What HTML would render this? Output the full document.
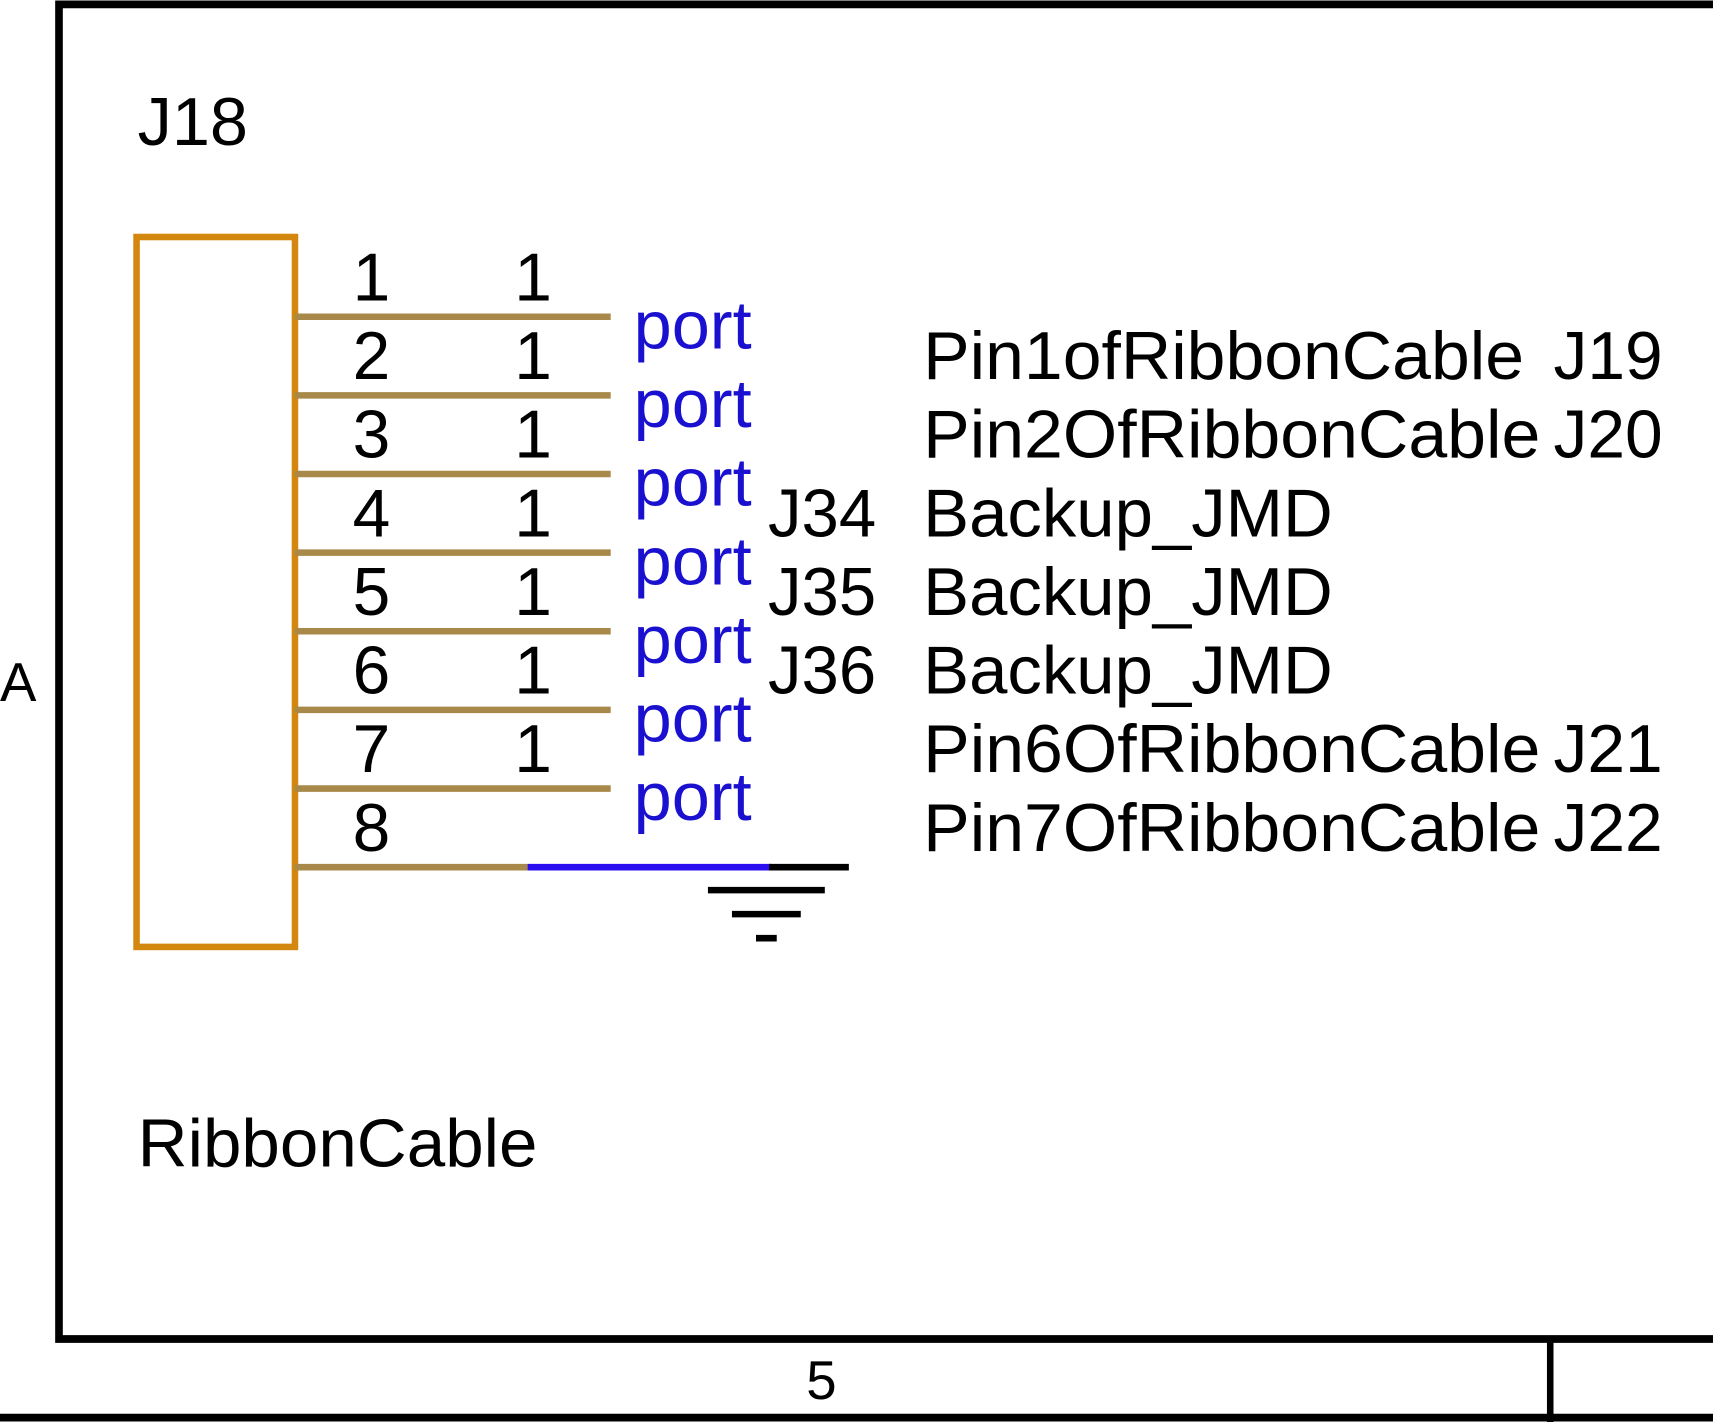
<!DOCTYPE html>
<html><head><meta charset="utf-8"><style>
html,body{margin:0;padding:0;background:#fff;}
svg{display:block;}
text{font-family:"Liberation Sans",Arial,sans-serif;}
</style></head><body>
<svg width="1713" height="1422" viewBox="0 0 1568 1302" preserveAspectRatio="none" xmlns="http://www.w3.org/2000/svg">
<rect x="0" y="0" width="1568" height="1302" fill="#fff"/>
<polyline points="1572,4 54,4 54,1226 1572,1226" fill="none" stroke="#000" stroke-width="7"/>
<line x1="0" y1="1298" x2="1572" y2="1298" stroke="#000" stroke-width="7"/>
<line x1="1419" y1="1226" x2="1419" y2="1302" stroke="#000" stroke-width="6"/>
<text x="738" y="1281" font-size="50">5</text>
<text x="0" y="642" font-size="50">A</text>
<text x="126" y="133" font-size="62" textLength="101" lengthAdjust="spacingAndGlyphs">J18</text>
<text x="126" y="1068" font-size="62" textLength="366" lengthAdjust="spacingAndGlyphs">RibbonCable</text>
<rect x="125" y="217" width="145" height="650" fill="none" stroke="#d4870e" stroke-width="6"/>
<g stroke="#a8894a" stroke-width="6">
<line x1="270" y1="290" x2="559" y2="290"/>
<line x1="270" y1="362" x2="559" y2="362"/>
<line x1="270" y1="434" x2="559" y2="434"/>
<line x1="270" y1="506" x2="559" y2="506"/>
<line x1="270" y1="578" x2="559" y2="578"/>
<line x1="270" y1="650" x2="559" y2="650"/>
<line x1="270" y1="722" x2="559" y2="722"/>
<line x1="270" y1="794" x2="484" y2="794"/>
</g>
<line x1="483" y1="794" x2="706" y2="794" stroke="#2a0ef0" stroke-width="6"/>
<g stroke="#000" stroke-width="6">
<line x1="704" y1="794" x2="777" y2="794"/>
<line x1="648" y1="815" x2="755" y2="815"/>
<line x1="670" y1="837" x2="733" y2="837"/>
<line x1="692" y1="859" x2="711" y2="859"/>
</g>
<g font-size="62" fill="#000" text-anchor="middle">
<text x="340" y="275">1</text><text x="340" y="347">2</text><text x="340" y="419">3</text><text x="340" y="491">4</text>
<text x="340" y="563">5</text><text x="340" y="635">6</text><text x="340" y="707">7</text><text x="340" y="779">8</text>
<text x="488" y="275">1</text><text x="488" y="347">1</text><text x="488" y="419">1</text><text x="488" y="491">1</text>
<text x="488" y="563">1</text><text x="488" y="635">1</text><text x="488" y="707">1</text>
</g>
<g font-size="62" fill="#1a10d0">
<text x="580" y="319" textLength="108" lengthAdjust="spacingAndGlyphs">port</text><text x="580" y="391" textLength="108" lengthAdjust="spacingAndGlyphs">port</text><text x="580" y="463" textLength="108" lengthAdjust="spacingAndGlyphs">port</text><text x="580" y="535" textLength="108" lengthAdjust="spacingAndGlyphs">port</text>
<text x="580" y="607" textLength="108" lengthAdjust="spacingAndGlyphs">port</text><text x="580" y="679" textLength="108" lengthAdjust="spacingAndGlyphs">port</text><text x="580" y="751" textLength="108" lengthAdjust="spacingAndGlyphs">port</text>
</g>
<g font-size="62" fill="#000" lengthAdjust="spacingAndGlyphs">
<text x="845" y="347" textLength="550" lengthAdjust="spacingAndGlyphs">Pin1ofRibbonCable</text><text x="1422" y="347" textLength="100" lengthAdjust="spacingAndGlyphs">J19</text>
<text x="845" y="419" textLength="565" lengthAdjust="spacingAndGlyphs">Pin2OfRibbonCable</text><text x="1422" y="419" textLength="100" lengthAdjust="spacingAndGlyphs">J20</text>
<text x="703" y="491" textLength="99" lengthAdjust="spacingAndGlyphs">J34</text><text x="845" y="491" textLength="375" lengthAdjust="spacingAndGlyphs">Backup_JMD</text>
<text x="703" y="563" textLength="99" lengthAdjust="spacingAndGlyphs">J35</text><text x="845" y="563" textLength="375" lengthAdjust="spacingAndGlyphs">Backup_JMD</text>
<text x="703" y="635" textLength="99" lengthAdjust="spacingAndGlyphs">J36</text><text x="845" y="635" textLength="375" lengthAdjust="spacingAndGlyphs">Backup_JMD</text>
<text x="845" y="707" textLength="565" lengthAdjust="spacingAndGlyphs">Pin6OfRibbonCable</text><text x="1422" y="707" textLength="100" lengthAdjust="spacingAndGlyphs">J21</text>
<text x="845" y="779" textLength="565" lengthAdjust="spacingAndGlyphs">Pin7OfRibbonCable</text><text x="1422" y="779" textLength="100" lengthAdjust="spacingAndGlyphs">J22</text>
</g>
</svg>
</body></html>
